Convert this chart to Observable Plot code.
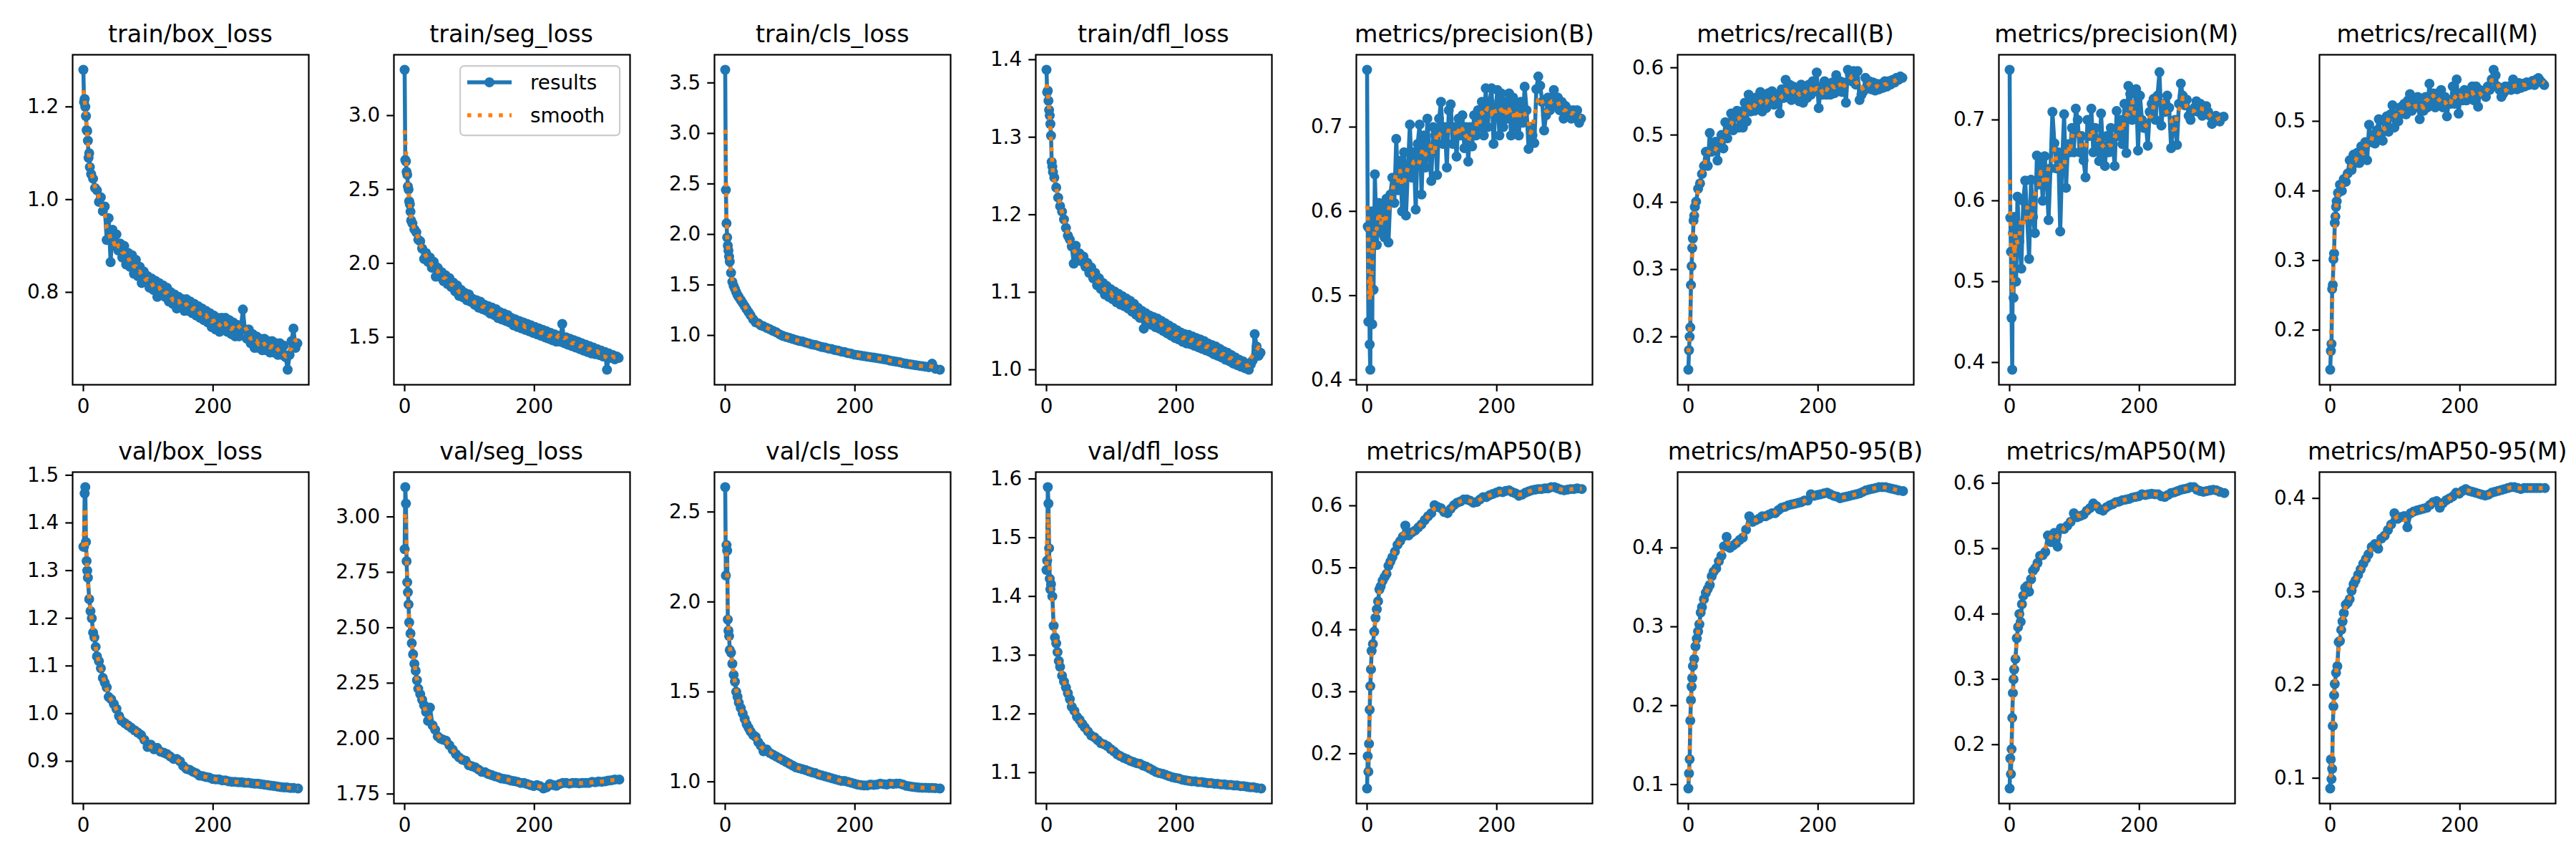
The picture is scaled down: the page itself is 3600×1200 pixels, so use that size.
<!DOCTYPE html>
<html>
<head>
<meta charset="utf-8">
<script src="https://cdn.jsdelivr.net/npm/d3@7"></script>
<script src="https://cdn.jsdelivr.net/npm/@observablehq/plot@0.6"></script>
<style>
html, body { margin: 0; padding: 0; background: #fff; }
#fig { position: relative; width: 3600px; height: 1200px; background: #fff; overflow: hidden; font-family: 'DejaVu Sans', sans-serif; }
.title { position: absolute; width: 530px; text-align: center; font-size: 33.3px; line-height: 1; white-space: nowrap; color: #000; }
.panel { position: absolute; }
.legend { position: absolute; }
</style>
</head>
<body>
<div id="fig"></div>
<script>
// Epochs for the smoother curves
const epochs = [0,1,2,3,4,5,6,7,9,11, 13,15,17,19,21,24,27,30,33,36, 39,43,47,51,55,59,64,69,74,79, 84,89,94,99,104,109,114,119,124,129, 134,139,144,149,154,159,164,169,174,179, 184,189,194,199,204,209,214,219,224,229, 234,239,244,249,254,259,264,269,274,279, 284,289,294,299,304,309,314,319,324,331];

// Epochs for the noisier curves (read more densely)
const epochsDense = [0,1,2,3,4,5,6,7,8,9,
10,12,15,18,21,24,27,30,33,36,
39,42,45,48,51,54,57,60,63,66,
69,72,75,78,81,84,87,90,93,96,
99,102,105,108,111,114,117,120,123,126,
129,132,135,138,141,144,147,150,153,156,
159,162,165,168,171,174,177,180,183,186,
189,192,195,198,201,204,207,210,213,216,
219,222,225,228,231,234,237,240,243,246,
249,252,255,258,261,264,267,270,273,276,
279,282,285,288,291,294,297,300,303,306,
309,312,315,318,321,324,327,330];

const titles = ["train/box_loss","train/seg_loss","train/cls_loss","train/dfl_loss","metrics/precision(B)","metrics/recall(B)","metrics/precision(M)","metrics/recall(M)",
                "val/box_loss","val/seg_loss","val/cls_loss","val/dfl_loss","metrics/mAP50(B)","metrics/mAP50-95(B)","metrics/mAP50(M)","metrics/mAP50-95(M)"];

// ---- dense series ----
const trainBox = [1.28,1.21,1.217,1.20,1.18,1.15,1.148,1.127,1.09,1.10,
1.07,1.055,1.045,1.025,1.02,0.995,1.005,0.975,0.985,0.913,
0.96,0.865,0.935,0.90,0.925,0.89,0.905,0.875,0.90,0.86,
0.885,0.855,0.88,0.84,0.87,0.835,0.855,0.82,0.845,0.825,
0.835,0.81,0.83,0.805,0.825,0.79,0.82,0.80,0.815,0.79,
0.81,0.78,0.80,0.775,0.795,0.765,0.79,0.77,0.785,0.76,
0.785,0.76,0.78,0.755,0.775,0.75,0.77,0.745,0.765,0.74,
0.76,0.735,0.755,0.725,0.75,0.72,0.745,0.715,0.745,0.72,
0.745,0.715,0.74,0.71,0.735,0.705,0.73,0.705,0.725,0.763,
0.72,0.70,0.72,0.69,0.71,0.68,0.705,0.68,0.70,0.675,
0.70,0.675,0.695,0.67,0.695,0.67,0.69,0.665,0.69,0.665,
0.685,0.66,0.633,0.665,0.695,0.722,0.68,0.69];

const trainSeg = [3.31,2.70,2.69,2.62,2.60,2.52,2.50,2.42,2.40,2.35,
2.29,2.27,2.23,2.21,2.16,2.15,2.10,2.03,2.07,2.01,
2.04,1.97,2.01,1.91,1.97,1.91,1.94,1.88,1.92,1.86,
1.90,1.84,1.87,1.81,1.85,1.78,1.82,1.77,1.80,1.75,
1.79,1.74,1.76,1.72,1.75,1.70,1.74,1.69,1.72,1.68,
1.71,1.66,1.70,1.65,1.69,1.63,1.67,1.62,1.66,1.61,
1.65,1.60,1.63,1.58,1.62,1.57,1.61,1.56,1.60,1.55,
1.59,1.54,1.58,1.53,1.57,1.52,1.56,1.51,1.55,1.50,
1.54,1.49,1.53,1.48,1.52,1.47,1.51,1.47,1.59,1.46,
1.50,1.45,1.49,1.44,1.48,1.43,1.47,1.42,1.46,1.41,
1.45,1.40,1.44,1.39,1.43,1.385,1.42,1.38,1.41,1.37,
1.40,1.28,1.39,1.36,1.38,1.35,1.37,1.36];

const trainDfl = [1.387,1.358,1.360,1.347,1.335,1.328,1.317,1.302,1.268,1.262,
1.255,1.248,1.235,1.222,1.211,1.204,1.194,1.183,1.173,1.168,
1.159,1.137,1.160,1.148,1.150,1.140,1.146,1.133,1.138,1.125,
1.132,1.118,1.125,1.109,1.118,1.104,1.112,1.097,1.108,1.094,
1.104,1.091,1.101,1.087,1.098,1.084,1.095,1.082,1.092,1.079,
1.089,1.075,1.085,1.071,1.080,1.067,1.076,1.053,1.073,1.062,
1.070,1.058,1.068,1.055,1.066,1.053,1.063,1.050,1.060,1.047,
1.057,1.044,1.054,1.041,1.051,1.039,1.048,1.036,1.046,1.034,
1.045,1.033,1.043,1.031,1.041,1.029,1.039,1.027,1.037,1.025,
1.034,1.023,1.032,1.020,1.030,1.018,1.027,1.016,1.024,1.013,
1.022,1.011,1.019,1.008,1.016,1.006,1.013,1.004,1.011,1.002,
1.008,1.000,1.007,1.012,1.046,1.030,1.018,1.022];

const precisionB = [0.768,0.582,0.469,0.58,0.442,0.412,0.57,0.60,0.466,0.59,
0.507,0.644,0.56,0.61,0.575,0.605,0.569,0.615,0.563,0.62,
0.64,0.61,0.686,0.625,0.66,0.60,0.67,0.595,0.65,0.703,
0.64,0.67,0.602,0.68,0.703,0.62,0.69,0.652,0.71,0.665,
0.636,0.70,0.69,0.643,0.71,0.73,0.68,0.70,0.652,0.72,
0.727,0.68,0.70,0.665,0.71,0.69,0.714,0.675,0.70,0.659,
0.70,0.677,0.714,0.69,0.72,0.70,0.73,0.69,0.746,0.70,
0.73,0.746,0.68,0.72,0.744,0.69,0.74,0.70,0.73,0.71,
0.74,0.69,0.735,0.70,0.725,0.69,0.73,0.705,0.748,0.72,
0.674,0.70,0.69,0.681,0.745,0.76,0.749,0.73,0.696,0.714,
0.735,0.72,0.73,0.744,0.725,0.735,0.72,0.73,0.71,0.725,
0.715,0.72,0.71,0.72,0.715,0.72,0.705,0.71];

const recallB = [0.151,0.18,0.20,0.214,0.277,0.305,0.332,0.346,0.373,0.38,
0.393,0.401,0.42,0.428,0.442,0.454,0.475,0.454,0.503,0.475,
0.479,0.49,0.462,0.487,0.50,0.48,0.519,0.495,0.515,0.532,
0.507,0.53,0.536,0.511,0.535,0.511,0.548,0.52,0.56,0.535,
0.55,0.536,0.556,0.54,0.564,0.535,0.555,0.54,0.562,0.548,
0.565,0.545,0.56,0.55,0.532,0.568,0.555,0.582,0.556,0.575,
0.552,0.572,0.556,0.57,0.55,0.575,0.548,0.57,0.555,0.575,
0.56,0.58,0.565,0.593,0.54,0.572,0.56,0.58,0.56,0.575,
0.56,0.578,0.562,0.589,0.565,0.58,0.564,0.578,0.548,0.597,
0.59,0.58,0.595,0.575,0.595,0.552,0.56,0.565,0.585,0.57,
0.58,0.568,0.578,0.566,0.576,0.568,0.576,0.57,0.58,0.572,
0.58,0.575,0.582,0.578,0.585,0.582,0.587,0.585];

const precisionM = [0.762,0.579,0.537,0.455,0.391,0.56,0.48,0.58,0.54,0.57,
0.50,0.605,0.55,0.516,0.60,0.625,0.58,0.528,0.626,0.58,
0.56,0.656,0.62,0.648,0.60,0.655,0.63,0.576,0.64,0.71,
0.671,0.64,0.66,0.562,0.65,0.707,0.616,0.67,0.66,0.69,
0.66,0.714,0.70,0.66,0.68,0.65,0.629,0.70,0.68,0.714,
0.66,0.69,0.67,0.649,0.708,0.66,0.643,0.68,0.66,0.69,
0.67,0.643,0.711,0.68,0.70,0.67,0.72,0.659,0.742,0.732,
0.70,0.71,0.738,0.662,0.73,0.70,0.69,0.695,0.668,0.71,
0.72,0.726,0.70,0.73,0.759,0.693,0.72,0.71,0.73,0.715,
0.665,0.69,0.70,0.669,0.72,0.745,0.73,0.718,0.725,0.705,
0.70,0.71,0.715,0.723,0.71,0.72,0.705,0.715,0.717,0.71,
0.705,0.695,0.70,0.705,0.70,0.698,0.703,0.704];

const recallM = [0.143,0.17,0.18,0.259,0.265,0.302,0.31,0.354,0.363,0.377,
0.385,0.397,0.409,0.40,0.417,0.413,0.425,0.444,0.43,0.452,
0.44,0.455,0.44,0.464,0.45,0.47,0.444,0.495,0.47,0.48,
0.468,0.487,0.503,0.48,0.472,0.50,0.507,0.485,0.51,0.523,
0.491,0.51,0.50,0.52,0.511,0.525,0.51,0.53,0.539,0.515,
0.53,0.52,0.535,0.503,0.523,0.515,0.535,0.52,0.554,0.53,
0.54,0.52,0.54,0.527,0.545,0.52,0.535,0.507,0.53,0.525,
0.55,0.525,0.56,0.511,0.54,0.53,0.545,0.53,0.543,0.535,
0.55,0.53,0.55,0.521,0.545,0.54,0.543,0.535,0.55,0.545,
0.56,0.574,0.566,0.55,0.545,0.535,0.54,0.55,0.545,0.55,
0.545,0.56,0.55,0.546,0.555,0.548,0.554,0.55,0.556,0.552,
0.554,0.558,0.552,0.56,0.562,0.558,0.555,0.552];

// ---- sparse series ----
const trainCls = [3.63,2.44,2.11,1.97,1.89,1.84,1.78,1.73,1.62,1.53,
1.49,1.46,1.43,1.40,1.38,1.35,1.32,1.29,1.26,1.23,
1.20,1.16,1.13,1.12,1.10,1.09,1.075,1.06,1.045,1.03,
1.01,0.995,0.985,0.975,0.965,0.955,0.945,0.94,0.93,0.92,
0.91,0.905,0.895,0.885,0.88,0.87,0.865,0.855,0.85,0.84,
0.835,0.825,0.82,0.81,0.805,0.80,0.795,0.79,0.785,0.78,
0.775,0.77,0.765,0.76,0.75,0.745,0.74,0.735,0.725,0.72,
0.715,0.71,0.705,0.70,0.695,0.69,0.685,0.72,0.67,0.66];

const valBox = [1.35,1.35,1.462,1.475,1.36,1.32,1.30,1.285,1.24,1.215,
1.20,1.17,1.16,1.14,1.12,1.11,1.095,1.075,1.065,1.055,
1.035,1.03,1.02,1.01,0.995,0.985,0.98,0.975,0.97,0.965,
0.96,0.955,0.945,0.93,0.935,0.925,0.928,0.92,0.918,0.915,
0.91,0.905,0.905,0.90,0.89,0.884,0.882,0.878,0.875,0.87,
0.869,0.867,0.866,0.863,0.862,0.862,0.86,0.86,0.858,0.857,
0.857,0.856,0.856,0.855,0.855,0.854,0.853,0.853,0.852,0.851,
0.85,0.849,0.848,0.847,0.846,0.845,0.845,0.844,0.844,0.843];

const valSeg = [2.854,3.134,3.06,2.80,2.705,2.66,2.605,2.524,2.474,2.43,
2.38,2.337,2.306,2.263,2.225,2.20,2.175,2.15,2.12,2.08,
2.14,2.06,2.04,2.01,2.00,1.995,1.99,1.97,1.95,1.93,
1.915,1.905,1.90,1.88,1.875,1.87,1.86,1.85,1.848,1.84,
1.835,1.83,1.826,1.82,1.818,1.815,1.81,1.808,1.805,1.80,
1.80,1.795,1.79,1.786,1.79,1.785,1.775,1.78,1.795,1.79,
1.787,1.795,1.80,1.80,1.797,1.80,1.80,1.798,1.80,1.80,
1.80,1.805,1.803,1.806,1.805,1.807,1.81,1.812,1.815,1.815];

const valCls = [2.638,2.147,2.316,2.285,1.902,1.84,1.81,1.733,1.718,1.656,
1.595,1.557,1.50,1.472,1.44,1.41,1.38,1.35,1.32,1.30,
1.28,1.26,1.25,1.22,1.20,1.17,1.18,1.16,1.15,1.14,
1.13,1.12,1.11,1.10,1.09,1.08,1.075,1.07,1.065,1.058,
1.052,1.048,1.04,1.035,1.03,1.025,1.02,1.015,1.01,1.005,
1.005,1.00,0.995,0.99,0.985,0.982,0.98,0.98,0.985,0.983,
0.985,0.99,0.987,0.985,0.99,0.988,0.99,0.99,0.985,0.978,
0.975,0.972,0.97,0.968,0.967,0.967,0.966,0.966,0.965,0.963];

const valDfl = [1.445,1.461,1.586,1.558,1.482,1.43,1.412,1.421,1.40,1.35,
1.33,1.32,1.305,1.29,1.28,1.265,1.255,1.245,1.235,1.225,
1.212,1.205,1.195,1.19,1.183,1.177,1.17,1.163,1.16,1.155,
1.15,1.148,1.145,1.14,1.136,1.131,1.128,1.125,1.123,1.12,
1.118,1.116,1.115,1.112,1.11,1.107,1.104,1.101,1.099,1.098,
1.096,1.094,1.092,1.091,1.09,1.088,1.087,1.086,1.085,1.085,
1.084,1.084,1.083,1.082,1.082,1.081,1.081,1.08,1.08,1.079,
1.079,1.078,1.078,1.077,1.077,1.076,1.075,1.075,1.074,1.073];

const map50B = [0.144,0.196,0.171,0.216,0.271,0.309,0.336,0.366,0.377,0.397,
0.419,0.433,0.446,0.465,0.47,0.479,0.485,0.49,0.503,0.51,
0.517,0.526,0.537,0.543,0.55,0.568,0.552,0.557,0.56,0.565,
0.57,0.577,0.583,0.588,0.601,0.598,0.596,0.59,0.588,0.595,
0.601,0.605,0.607,0.61,0.61,0.608,0.605,0.606,0.61,0.614,
0.614,0.617,0.619,0.621,0.623,0.622,0.624,0.625,0.622,0.62,
0.616,0.618,0.621,0.623,0.625,0.626,0.627,0.627,0.628,0.628,
0.63,0.63,0.628,0.626,0.625,0.626,0.627,0.627,0.628,0.627];

const map5095B = [0.095,0.114,0.132,0.181,0.207,0.224,0.235,0.25,0.259,0.275,
0.285,0.294,0.303,0.318,0.325,0.335,0.343,0.348,0.353,0.364,
0.37,0.374,0.383,0.39,0.402,0.414,0.40,0.403,0.406,0.41,
0.413,0.423,0.44,0.433,0.435,0.437,0.44,0.44,0.442,0.444,
0.444,0.448,0.451,0.452,0.454,0.455,0.456,0.457,0.458,0.46,
0.46,0.468,0.466,0.467,0.468,0.469,0.47,0.468,0.466,0.465,
0.463,0.464,0.465,0.466,0.467,0.468,0.469,0.471,0.473,0.474,
0.475,0.476,0.477,0.477,0.477,0.476,0.475,0.474,0.473,0.472];

const map50M = [0.133,0.179,0.155,0.193,0.241,0.279,0.30,0.315,0.331,0.363,
0.38,0.40,0.388,0.415,0.428,0.44,0.443,0.434,0.453,0.466,
0.47,0.478,0.489,0.49,0.495,0.52,0.51,0.524,0.503,0.531,
0.53,0.535,0.541,0.554,0.548,0.55,0.552,0.558,0.562,0.569,
0.565,0.56,0.558,0.563,0.566,0.568,0.571,0.572,0.574,0.575,
0.576,0.578,0.579,0.58,0.583,0.582,0.583,0.584,0.583,0.583,
0.58,0.579,0.582,0.585,0.586,0.588,0.59,0.591,0.592,0.594,
0.594,0.59,0.588,0.587,0.588,0.589,0.59,0.589,0.587,0.585];

const map5095M = [0.089,0.12,0.099,0.11,0.156,0.177,0.189,0.201,0.213,0.22,
0.246,0.247,0.259,0.268,0.277,0.286,0.288,0.292,0.301,0.308,
0.312,0.318,0.324,0.33,0.335,0.34,0.348,0.351,0.346,0.357,
0.36,0.366,0.372,0.384,0.378,0.38,0.381,0.369,0.384,0.386,
0.387,0.388,0.389,0.39,0.393,0.396,0.397,0.39,0.395,0.398,
0.40,0.402,0.406,0.405,0.408,0.41,0.408,0.407,0.406,0.405,
0.404,0.403,0.404,0.406,0.407,0.408,0.409,0.41,0.411,0.412,
0.412,0.411,0.41,0.411,0.411,0.411,0.411,0.411,0.411,0.411];

// Tick labels
const xTickLabels = ["0", "200"];
const yTickLabels = [
  ["0.8","1.0","1.2"],
  ["1.5","2.0","2.5","3.0"],
  ["1.0","1.5","2.0","2.5","3.0","3.5"],
  ["1.0","1.1","1.2","1.3","1.4"],
  ["0.4","0.5","0.6","0.7"],
  ["0.2","0.3","0.4","0.5","0.6"],
  ["0.4","0.5","0.6","0.7"],
  ["0.2","0.3","0.4","0.5"],
  ["0.9","1.0","1.1","1.2","1.3","1.4","1.5"],
  ["1.75","2.00","2.25","2.50","2.75","3.00"],
  ["1.0","1.5","2.0","2.5"],
  ["1.1","1.2","1.3","1.4","1.5","1.6"],
  ["0.2","0.3","0.4","0.5","0.6"],
  ["0.1","0.2","0.3","0.4"],
  ["0.2","0.3","0.4","0.5","0.6"],
  ["0.1","0.2","0.3","0.4"]
];

const series = [trainBox, trainSeg, trainCls, trainDfl, precisionB, recallB, precisionM, recallM,
                valBox, valSeg, valCls, valDfl, map50B, map5095B, map50M, map5095M];
const seriesEpochs = [epochsDense, epochsDense, epochs, epochsDense, epochsDense, epochsDense, epochsDense, epochsDense,
                      epochs, epochs, epochs, epochs, epochs, epochs, epochs, epochs];

// ---- drawing ----
const BLUE = "#1f77b4", ORANGE = "#ff7f0e";
const LW = 5.56;            // 2pt at 200 dpi
const fig = document.getElementById("fig");

function padded(ext) {       // matplotlib-style 5% margins
  const r = ext[1] - ext[0];
  return [ext[0] - 0.05 * r, ext[1] + 0.05 * r];
}
const xDomain = padded(d3.extent(epochs));
const xTickVals = xTickLabels.map(Number);

series.forEach((vals, i) => {
  const row = Math.floor(i / 8), col = i % 8;
  const fLeft = 101 + col * 448.6;
  const fTop = row === 0 ? 76 : 659;
  const fH = row === 0 ? 461 : 463;
  const fW = 330;
  const mL = 100, mR = 10, mT = 10, mB = 60;

  const xs = seriesEpochs[i];
  const data = xs.map((e, j) => ({epoch: e, value: vals[j]}));
  const labels = yTickLabels[i];
  const tickVals = labels.map(Number);
  const fmt = new Map(tickVals.map((v, k) => [v, labels[k]]));
  const k = xs === epochsDense ? 5 : 3;

  const chart = Plot.plot({
    width: mL + fW + mR,
    height: mT + fH + mB,
    marginLeft: mL, marginRight: mR, marginTop: mT, marginBottom: mB,
    x: {domain: xDomain},
    y: {domain: padded(d3.extent(vals))},
    style: {fontFamily: "'DejaVu Sans', sans-serif", fontSize: "27.8px", background: "transparent", color: "#000", overflow: "visible"},
    marks: [
      Plot.axisX({ticks: xTickVals, tickFormat: d => xTickLabels[xTickVals.indexOf(d)],
                  tickSize: 9.7, tickPadding: 9.7, strokeWidth: 2.2, label: null, fontSize: 27.8}),
      Plot.axisY({ticks: tickVals, tickFormat: d => fmt.get(d),
                  tickSize: 9.7, tickPadding: 9.7, strokeWidth: 2.2, label: null, fontSize: 27.8}),
      Plot.line(data, {x: "epoch", y: "value", stroke: BLUE, strokeWidth: LW}),
      Plot.dot(data, {x: "epoch", y: "value", r: 7, fill: BLUE, stroke: null}),
      Plot.lineY(data, Plot.windowY({k, reduce: "mean"}, {x: "epoch", y: "value", stroke: ORANGE, strokeWidth: LW,
                  strokeDasharray: "5.56,9.17", strokeLinecap: "butt"})),
      Plot.frame({stroke: "#000", strokeWidth: 2.2})
    ]
  });
  const holder = document.createElement("div");
  holder.className = "panel";
  holder.style.left = (fLeft - mL) + "px";
  holder.style.top = (fTop - mT) + "px";
  holder.appendChild(chart);
  fig.appendChild(holder);

  const t = document.createElement("div");
  t.className = "title";
  t.textContent = titles[i];
  t.style.left = (fLeft + fW / 2 - 265) + "px";
  t.style.top = (fTop - 45) + "px";
  fig.appendChild(t);
});

// legend (inside train/seg_loss panel, upper right)
const lg = document.createElement("div");
lg.className = "legend";
lg.style.left = "642px";
lg.style.top = "91px";
lg.innerHTML = `<svg width="226" height="100" xmlns="http://www.w3.org/2000/svg" style="font-family:'DejaVu Sans',sans-serif;font-size:27.8px">
  <rect x="1.1" y="1.1" width="223" height="97" rx="5.6" fill="#fff" fill-opacity="0.8" stroke="#cccccc" stroke-width="2.2"/>
  <line x1="11" x2="73" y1="24" y2="24" stroke="${BLUE}" stroke-width="${LW}"/>
  <circle cx="42" cy="24" r="7" fill="${BLUE}"/>
  <line x1="11" x2="73" y1="70" y2="70" stroke="${ORANGE}" stroke-width="${LW}" stroke-dasharray="5.56,9.17"/>
  <text x="99" y="34" fill="#000">results</text>
  <text x="99" y="80" fill="#000">smooth</text>
</svg>`;
fig.appendChild(lg);
</script>
</body>
</html>
